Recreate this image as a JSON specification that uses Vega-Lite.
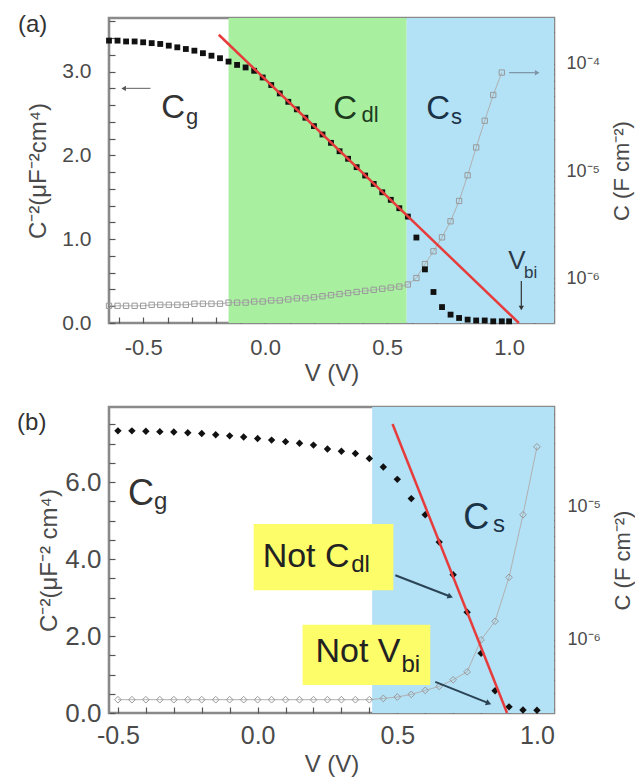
{
  "$schema": "https://vega.github.io/schema/vega-lite/v6.json",
  "padding": {"left": 15, "top": 9, "right": 0, "bottom": 0},
  "background": "white",
  "spacing": 16,
  "config": {
    "font": "Liberation Sans",
    "view": {"stroke": "#8a8a8a", "strokeWidth": 2.6},
    "axis": {"grid": false, "domain": false, "offset": -6, "tickColor": "#555555", "tickWidth": 1.2, "tickSize": 6, "ticks": true, "labelFont": "Liberation Sans", "titleFont": "Liberation Sans", "labelColor": "#4a4a4a", "titleColor": "#4a4a4a", "titleFontWeight": "normal", "zindex": 1, "labelFlush": false, "labelOverlap": false},
    "text": {"font": "Liberation Sans"}
  },
  "vconcat": [
    {
      "width": 445,
      "height": 305,
      "encoding": {
        "x": {"field": "V", "type": "quantitative", "scale": {"domain": [-0.64, 1.184], "nice": false, "zero": false},
          "axis": {"title": "V (V)", "values": [-0.6, -0.5, -0.4, -0.3, -0.2, -0.1, 0, 0.1, 0.2, 0.3, 0.4, 0.5, 0.6, 0.7, 0.8, 0.9, 1.0, 1.1],
            "labelExpr": "abs(datum.value*2-round(datum.value*2))<1e-6 ? replace(format(datum.value,'.1f'),'\u2212','-') : ''",
            "labelFontSize": 22, "titleFontSize": 24, "labelPadding": 14, "titlePadding": 3}}
      },
      "resolve": {"scale": {"y": "independent"}},
      "layer": [
        {
          "data": {"values": [{"V": -0.15, "V2": 0.58, "r": "Cdl"}, {"V": 0.58, "V2": 1.184, "r": "Cs"}]},
          "mark": {"type": "rect"},
          "encoding": {"x2": {"field": "V2"}, "color": {"field": "r", "type": "nominal", "scale": {"domain": ["Cdl", "Cs"], "range": ["#a8f0a0", "#b3e1f6"]}, "legend": null}}
        },
        {
          "encoding": {"y": {"field": "C", "type": "quantitative", "scale": {"type": "log", "domain": [3.8e-7, 2.69e-4], "nice": false},
            "axis": {"orient": "right", "title": "C (F cm⁻²)", "titleAngle": 270, "titleBaseline": "top", "titleFontSize": 22, "titlePadding": 12, "labelFontSize": 18, "labelPadding": 12,
              "values": [4e-7, 5e-7, 6e-7, 7e-7, 8e-7, 9e-7, 1e-6, 2e-6, 3e-6, 4e-6, 5e-6, 6e-6, 7e-6, 8e-6, 9e-6, 1e-5, 2e-5, 3e-5, 4e-5, 5e-5, 6e-5, 7e-5, 8e-5, 9e-5, 1e-4, 2e-4],
              "labelExpr": "abs(log(datum.value)/LN10-round(log(datum.value)/LN10))<1e-6 ? '10' + (round(log(datum.value)/LN10) == -4 ? '⁻⁴' : round(log(datum.value)/LN10) == -5 ? '⁻⁵' : '⁻⁶') : ''"}}},
          "layer": [
            {
              "data": {"values": [
                {"V": -0.64, "C": 5.5e-7}, {"V": -0.605, "C": 5.5e-7}, {"V": -0.57, "C": 5.5e-7}, {"V": -0.535, "C": 5.5e-7}, {"V": -0.5, "C": 5.5e-7},
                {"V": -0.465, "C": 5.62e-7}, {"V": -0.43, "C": 5.62e-7}, {"V": -0.395, "C": 5.62e-7}, {"V": -0.36, "C": 5.62e-7}, {"V": -0.325, "C": 5.62e-7},
                {"V": -0.29, "C": 5.75e-7}, {"V": -0.255, "C": 5.75e-7}, {"V": -0.22, "C": 5.75e-7}, {"V": -0.185, "C": 5.75e-7}, {"V": -0.15, "C": 5.89e-7},
                {"V": -0.115, "C": 5.89e-7}, {"V": -0.08, "C": 5.89e-7}, {"V": -0.045, "C": 6.03e-7}, {"V": -0.01, "C": 6.03e-7}, {"V": 0.025, "C": 6.17e-7},
                {"V": 0.06, "C": 6.17e-7}, {"V": 0.095, "C": 6.31e-7}, {"V": 0.13, "C": 6.46e-7}, {"V": 0.165, "C": 6.46e-7}, {"V": 0.2, "C": 6.61e-7},
                {"V": 0.235, "C": 6.76e-7}, {"V": 0.27, "C": 6.92e-7}, {"V": 0.305, "C": 7.08e-7}, {"V": 0.34, "C": 7.24e-7}, {"V": 0.375, "C": 7.41e-7},
                {"V": 0.41, "C": 7.59e-7}, {"V": 0.445, "C": 7.76e-7}, {"V": 0.48, "C": 7.94e-7}, {"V": 0.515, "C": 8.13e-7}, {"V": 0.55, "C": 8.32e-7},
                {"V": 0.585, "C": 8.71e-7}, {"V": 0.62, "C": 1.0e-6}, {"V": 0.655, "C": 1.35e-6}, {"V": 0.69, "C": 1.78e-6}, {"V": 0.725, "C": 2.4e-6},
                {"V": 0.76, "C": 3.39e-6}, {"V": 0.795, "C": 5.25e-6}, {"V": 0.83, "C": 9.12e-6}, {"V": 0.865, "C": 1.66e-5}, {"V": 0.9, "C": 2.95e-5},
                {"V": 0.935, "C": 5.13e-5}, {"V": 0.97, "C": 8.32e-5}
              ]},
              "mark": {"type": "line", "color": "#b0b0b0", "strokeWidth": 1, "point": {"shape": "square", "filled": false, "size": 28, "color": "#999999", "strokeWidth": 1}}
            },
            {
              "data": {"values": [{"V": 1.0, "V2": 1.105, "C": 8.3e-5}]},
              "mark": {"type": "rule", "color": "#7d93a3", "strokeWidth": 1.2},
              "encoding": {"x2": {"field": "V2"}}
            },
            {
              "data": {"values": [{"V": 1.115, "C": 8.3e-5}]},
              "mark": {"type": "point", "shape": "triangle-right", "filled": true, "size": 30, "color": "#7d93a3", "opacity": 1}
            }
          ]
        },
        {
          "encoding": {"y": {"field": "C2", "type": "quantitative", "scale": {"domain": [0, 3.64], "nice": false, "zero": false},
            "axis": {"orient": "left", "title": "C⁻²(μF⁻²cm⁴)", "titleFontSize": 24, "titlePadding": 11, "labelFontSize": 21, "labelPadding": 18,
              "values": [0, 0.2, 0.4, 0.6, 0.8, 1, 1.2, 1.4, 1.6, 1.8, 2, 2.2, 2.4, 2.6, 2.8, 3, 3.2, 3.4, 3.6],
              "labelExpr": "abs(datum.value-round(datum.value))<1e-6 ? format(datum.value,'.1f') : ''"}}},
          "layer": [
            {
              "data": {"values": [
                {"V": -0.64, "C2": 3.37}, {"V": -0.605, "C2": 3.37}, {"V": -0.57, "C2": 3.36}, {"V": -0.535, "C2": 3.36}, {"V": -0.5, "C2": 3.35},
                {"V": -0.465, "C2": 3.34}, {"V": -0.43, "C2": 3.33}, {"V": -0.395, "C2": 3.31}, {"V": -0.36, "C2": 3.29}, {"V": -0.325, "C2": 3.27},
                {"V": -0.29, "C2": 3.25}, {"V": -0.255, "C2": 3.22}, {"V": -0.22, "C2": 3.19}, {"V": -0.185, "C2": 3.16}, {"V": -0.15, "C2": 3.12},
                {"V": -0.115, "C2": 3.08}, {"V": -0.08, "C2": 3.05}, {"V": -0.045, "C2": 3.01}, {"V": -0.01, "C2": 2.93}, {"V": 0.025, "C2": 2.84},
                {"V": 0.06, "C2": 2.74}, {"V": 0.095, "C2": 2.64}, {"V": 0.13, "C2": 2.55}, {"V": 0.165, "C2": 2.45}, {"V": 0.2, "C2": 2.35},
                {"V": 0.235, "C2": 2.25}, {"V": 0.27, "C2": 2.15}, {"V": 0.305, "C2": 2.05}, {"V": 0.34, "C2": 1.96}, {"V": 0.375, "C2": 1.86},
                {"V": 0.41, "C2": 1.76}, {"V": 0.445, "C2": 1.66}, {"V": 0.48, "C2": 1.56}, {"V": 0.515, "C2": 1.47}, {"V": 0.55, "C2": 1.37},
                {"V": 0.585, "C2": 1.27}, {"V": 0.62, "C2": 1.02}, {"V": 0.655, "C2": 0.64}, {"V": 0.69, "C2": 0.37}, {"V": 0.725, "C2": 0.19},
                {"V": 0.76, "C2": 0.1}, {"V": 0.795, "C2": 0.06}, {"V": 0.83, "C2": 0.04}, {"V": 0.865, "C2": 0.03}, {"V": 0.9, "C2": 0.03},
                {"V": 0.935, "C2": 0.02}, {"V": 0.97, "C2": 0.02}, {"V": 1.0, "C2": 0.02}
              ]},
              "mark": {"type": "point", "shape": "square", "filled": true, "size": 34, "color": "#111111", "opacity": 1}
            },
            {
              "data": {"values": [{"V": -0.19, "C2": 3.44}, {"V": 1.04, "C2": 0.0}]},
              "mark": {"type": "line", "color": "#e63c3c", "strokeWidth": 2.5}
            },
            {
              "data": {"values": [{"V": -0.57, "V2": -0.47, "C2": 2.8}]},
              "mark": {"type": "rule", "color": "#7a7a7a", "strokeWidth": 1.2},
              "encoding": {"x2": {"field": "V2"}}
            },
            {
              "data": {"values": [{"V": -0.58, "C2": 2.8}]},
              "mark": {"type": "point", "shape": "triangle-left", "filled": true, "size": 28, "color": "#555555", "opacity": 1}
            },
            {
              "data": {"values": [{"V": 1.05, "C2": 0.5, "C2b": 0.2}]},
              "mark": {"type": "rule", "color": "#333333", "strokeWidth": 1.2},
              "encoding": {"y2": {"field": "C2b"}}
            },
            {
              "data": {"values": [{"V": 1.05, "C2": 0.18}]},
              "mark": {"type": "point", "shape": "triangle-down", "filled": true, "size": 28, "color": "#333333", "opacity": 1}
            },
            {
              "data": {"values": [{"V": -1.013, "C2": 3.477, "t": "(a)"}]},
              "mark": {"type": "text", "align": "left", "baseline": "alphabetic", "fontSize": 24, "color": "#333333"},
              "encoding": {"text": {"field": "t"}}
            },
            {
              "data": {"values": [{"V": -0.426, "C2": 2.45, "t": "C"}]},
              "mark": {"type": "text", "align": "left", "baseline": "alphabetic", "fontSize": 33, "color": "#333333"},
              "encoding": {"text": {"field": "t"}}
            },
            {
              "data": {"values": [{"V": -0.324, "C2": 2.38, "t": "g"}]},
              "mark": {"type": "text", "align": "left", "baseline": "alphabetic", "fontSize": 22, "color": "#333333"},
              "encoding": {"text": {"field": "t"}}
            },
            {
              "data": {"values": [{"V": 0.279, "C2": 2.44, "t": "C"}]},
              "mark": {"type": "text", "align": "left", "baseline": "alphabetic", "fontSize": 33, "color": "#1e3b1e"},
              "encoding": {"text": {"field": "t"}}
            },
            {
              "data": {"values": [{"V": 0.395, "C2": 2.4, "t": "dl"}]},
              "mark": {"type": "text", "align": "left", "baseline": "alphabetic", "fontSize": 22, "color": "#1e3b1e"},
              "encoding": {"text": {"field": "t"}}
            },
            {
              "data": {"values": [{"V": 0.66, "C2": 2.44, "t": "C"}]},
              "mark": {"type": "text", "align": "left", "baseline": "alphabetic", "fontSize": 33, "color": "#1b3347"},
              "encoding": {"text": {"field": "t"}}
            },
            {
              "data": {"values": [{"V": 0.762, "C2": 2.38, "t": "s"}]},
              "mark": {"type": "text", "align": "left", "baseline": "alphabetic", "fontSize": 22, "color": "#1b3347"},
              "encoding": {"text": {"field": "t"}}
            },
            {
              "data": {"values": [{"V": 0.996, "C2": 0.645, "t": "V"}]},
              "mark": {"type": "text", "align": "left", "baseline": "alphabetic", "fontSize": 26, "color": "#2b3a48"},
              "encoding": {"text": {"field": "t"}}
            },
            {
              "data": {"values": [{"V": 1.061, "C2": 0.54, "t": "bi"}]},
              "mark": {"type": "text", "align": "left", "baseline": "alphabetic", "fontSize": 17, "color": "#2b3a48"},
              "encoding": {"text": {"field": "t"}}
            }
          ]
        }
      ]
    },
    {
      "width": 445,
      "height": 306,
      "encoding": {
        "x": {"field": "V", "type": "quantitative", "scale": {"domain": [-0.532, 1.061], "nice": false, "zero": false},
          "axis": {"title": "V (V)", "values": [-0.5, -0.4, -0.3, -0.2, -0.1, 0, 0.1, 0.2, 0.3, 0.4, 0.5, 0.6, 0.7, 0.8, 0.9, 1.0],
            "labelExpr": "abs(datum.value*2-round(datum.value*2))<1e-6 ? replace(format(datum.value,'.1f'),'\u2212','-') : ''",
            "labelFontSize": 25, "titleFontSize": 24, "labelPadding": 10, "titlePadding": 4}}
      },
      "resolve": {"scale": {"y": "independent"}},
      "layer": [
        {
          "data": {"values": [{"V": 0.41, "V2": 1.061, "r": "Cs"}]},
          "mark": {"type": "rect", "color": "#b3e1f6"},
          "encoding": {"x2": {"field": "V2"}}
        },
        {
          "encoding": {"y": {"field": "C", "type": "quantitative", "scale": {"type": "log", "domain": [2.82e-7, 5.62e-5], "nice": false},
            "axis": {"orient": "right", "title": "C (F cm⁻²)", "titleAngle": 270, "titleBaseline": "top", "titleFontSize": 22, "titlePadding": 12, "labelFontSize": 18, "labelPadding": 13,
              "values": [3e-7, 4e-7, 5e-7, 6e-7, 7e-7, 8e-7, 9e-7, 1e-6, 2e-6, 3e-6, 4e-6, 5e-6, 6e-6, 7e-6, 8e-6, 9e-6, 1e-5, 2e-5, 3e-5, 4e-5, 5e-5],
              "labelExpr": "abs(log(datum.value)/LN10-round(log(datum.value)/LN10))<1e-6 ? '10' + (round(log(datum.value)/LN10) == -5 ? '⁻⁵' : '⁻⁶') : ''"}}},
          "layer": [
            {
              "data": {"values": [
                {"V": -0.5, "C": 3.55e-7}, {"V": -0.45, "C": 3.55e-7}, {"V": -0.4, "C": 3.55e-7}, {"V": -0.35, "C": 3.55e-7}, {"V": -0.3, "C": 3.55e-7},
                {"V": -0.25, "C": 3.55e-7}, {"V": -0.2, "C": 3.55e-7}, {"V": -0.15, "C": 3.55e-7}, {"V": -0.1, "C": 3.55e-7}, {"V": -0.05, "C": 3.55e-7},
                {"V": 0.0, "C": 3.55e-7}, {"V": 0.05, "C": 3.55e-7}, {"V": 0.1, "C": 3.55e-7}, {"V": 0.15, "C": 3.55e-7}, {"V": 0.2, "C": 3.55e-7},
                {"V": 0.25, "C": 3.55e-7}, {"V": 0.3, "C": 3.55e-7}, {"V": 0.35, "C": 3.55e-7}, {"V": 0.4, "C": 3.55e-7}, {"V": 0.45, "C": 3.63e-7},
                {"V": 0.5, "C": 3.72e-7}, {"V": 0.55, "C": 3.89e-7}, {"V": 0.6, "C": 4.17e-7}, {"V": 0.65, "C": 4.47e-7}, {"V": 0.7, "C": 5.01e-7},
                {"V": 0.75, "C": 5.75e-7}, {"V": 0.8, "C": 1.0e-6}, {"V": 0.85, "C": 1.38e-6}, {"V": 0.9, "C": 2.95e-6}, {"V": 0.95, "C": 8.71e-6},
                {"V": 1.0, "C": 2.82e-5}
              ]},
              "mark": {"type": "line", "color": "#b0b0b0", "strokeWidth": 1, "point": {"shape": "diamond", "filled": false, "size": 45, "color": "#9a9a9a", "strokeWidth": 1}}
            }
          ]
        },
        {
          "encoding": {"y": {"field": "C2", "type": "quantitative", "scale": {"domain": [0, 7.95], "nice": false, "zero": false},
            "axis": {"orient": "left", "title": "C⁻²(μF⁻² cm⁴)", "titleFontSize": 24, "titlePadding": 3, "labelFontSize": 26, "labelPadding": 8,
              "values": [0, 0.5, 1, 1.5, 2, 2.5, 3, 3.5, 4, 4.5, 5, 5.5, 6, 6.5, 7, 7.5],
              "labelExpr": "abs(datum.value/2-round(datum.value/2))<1e-6 ? format(datum.value,'.1f') : ''"}}},
          "layer": [
            {
              "data": {"values": [
                {"V": -0.014, "V2": 0.486, "C2": 3.19, "C2b": 4.91},
                {"V": 0.161, "V2": 0.618, "C2": 0.73, "C2b": 2.29}
              ]},
              "mark": {"type": "rect", "color": "#fdfd6a"},
              "encoding": {"x2": {"field": "V2"}, "y2": {"field": "C2b"}}
            },
            {
              "data": {"values": [
                {"V": -0.5, "C2": 7.33}, {"V": -0.45, "C2": 7.33}, {"V": -0.4, "C2": 7.32}, {"V": -0.35, "C2": 7.31}, {"V": -0.3, "C2": 7.3},
                {"V": -0.25, "C2": 7.28}, {"V": -0.2, "C2": 7.26}, {"V": -0.15, "C2": 7.23}, {"V": -0.1, "C2": 7.2}, {"V": -0.05, "C2": 7.17},
                {"V": 0.0, "C2": 7.13}, {"V": 0.05, "C2": 7.09}, {"V": 0.1, "C2": 7.05}, {"V": 0.15, "C2": 7.01}, {"V": 0.2, "C2": 6.96},
                {"V": 0.25, "C2": 6.86}, {"V": 0.3, "C2": 6.8}, {"V": 0.35, "C2": 6.74}, {"V": 0.4, "C2": 6.61}, {"V": 0.45, "C2": 6.39},
                {"V": 0.5, "C2": 6.07}, {"V": 0.55, "C2": 5.57}, {"V": 0.6, "C2": 5.15}, {"V": 0.65, "C2": 4.44}, {"V": 0.7, "C2": 3.59},
                {"V": 0.75, "C2": 2.62}, {"V": 0.8, "C2": 1.55}, {"V": 0.85, "C2": 0.58}, {"V": 0.9, "C2": 0.16}, {"V": 0.95, "C2": 0.08},
                {"V": 1.0, "C2": 0.07}
              ]},
              "mark": {"type": "point", "shape": "diamond", "filled": true, "size": 55, "color": "#111111", "opacity": 1}
            },
            {
              "data": {"values": [{"V": 0.483, "C2": 7.51}, {"V": 0.893, "C2": 0.0}]},
              "mark": {"type": "line", "color": "#e63c3c", "strokeWidth": 2.5}
            },
            {
              "data": {"values": [{"V": 0.493, "C2": 3.58, "V2": 0.685, "C2b": 3.04}, {"V": 0.636, "C2": 0.81, "V2": 0.822, "C2b": 0.27}]},
              "mark": {"type": "rule", "color": "#2a4455", "strokeWidth": 2},
              "encoding": {"x2": {"field": "V2"}, "y2": {"field": "C2b"}}
            },
            {
              "data": {"values": [{"V": 0.69, "C2": 3.025}, {"V": 0.827, "C2": 0.255}]},
              "mark": {"type": "point", "shape": "triangle-right", "filled": true, "size": 40, "angle": 21, "color": "#2a4455", "opacity": 1}
            },
            {
              "data": {"values": [{"V": -0.861, "C2": 7.35, "t": "(b)"}]},
              "mark": {"type": "text", "align": "left", "baseline": "alphabetic", "fontSize": 24, "color": "#333333"},
              "encoding": {"text": {"field": "t"}}
            },
            {
              "data": {"values": [{"V": -0.464, "C2": 5.4, "t": "C"}]},
              "mark": {"type": "text", "align": "left", "baseline": "alphabetic", "fontSize": 36, "color": "#333333"},
              "encoding": {"text": {"field": "t"}}
            },
            {
              "data": {"values": [{"V": -0.371, "C2": 5.3, "t": "g"}]},
              "mark": {"type": "text", "align": "left", "baseline": "alphabetic", "fontSize": 24, "color": "#333333"},
              "encoding": {"text": {"field": "t"}}
            },
            {
              "data": {"values": [{"V": 0.736, "C2": 4.78, "t": "C"}]},
              "mark": {"type": "text", "align": "left", "baseline": "alphabetic", "fontSize": 36, "color": "#1b3347"},
              "encoding": {"text": {"field": "t"}}
            },
            {
              "data": {"values": [{"V": 0.843, "C2": 4.7, "t": "s"}]},
              "mark": {"type": "text", "align": "left", "baseline": "alphabetic", "fontSize": 24, "color": "#1b3347"},
              "encoding": {"text": {"field": "t"}}
            },
            {
              "data": {"values": [{"V": 0.018, "C2": 3.79, "t": "Not C"}, {"V": 0.207, "C2": 1.32, "t": "Not V"}]},
              "mark": {"type": "text", "align": "left", "baseline": "alphabetic", "fontSize": 34, "color": "#222222"},
              "encoding": {"text": {"field": "t"}}
            },
            {
              "data": {"values": [{"V": 0.335, "C2": 3.66, "t": "dl"}, {"V": 0.515, "C2": 1.06, "t": "bi"}]},
              "mark": {"type": "text", "align": "left", "baseline": "alphabetic", "fontSize": 24, "color": "#222222"},
              "encoding": {"text": {"field": "t"}}
            }
          ]
        }
      ]
    }
  ]
}
